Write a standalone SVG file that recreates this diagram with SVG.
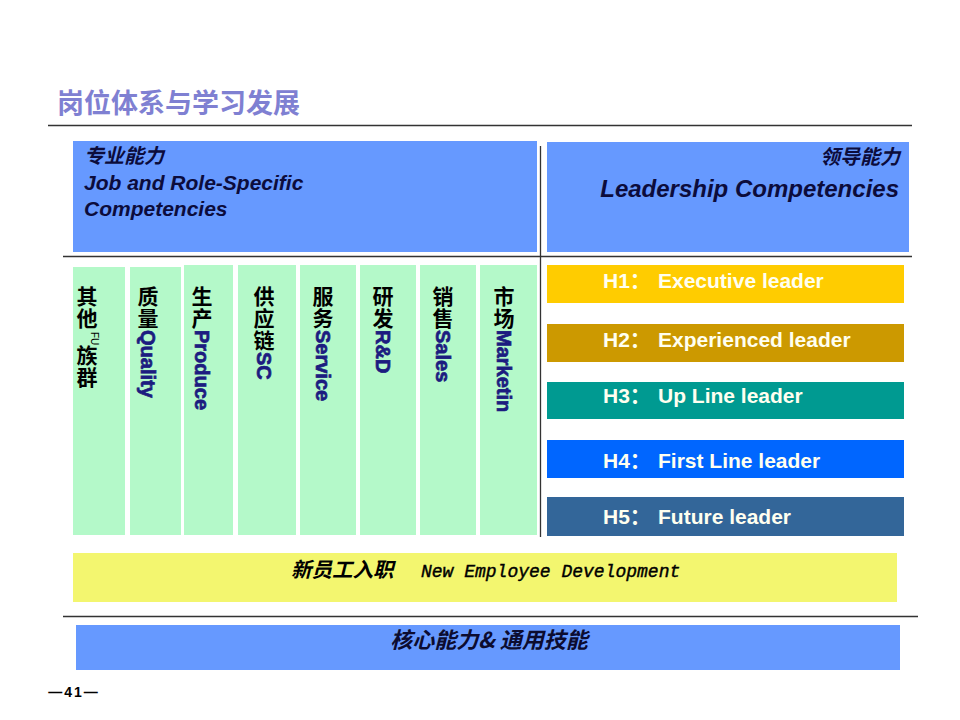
<svg xmlns="http://www.w3.org/2000/svg" width="960" height="720" viewBox="0 0 960 720">
<style>
.cjk{font-family:"Noto Sans CJK SC","Liberation Sans",sans-serif;font-weight:bold}
.v{writing-mode:vertical-rl;text-orientation:mixed;font-family:"Noto Sans CJK SC",sans-serif;font-weight:bold;font-size:21px;fill:#000}
.vc{letter-spacing:1px}
.en{font-family:"Liberation Sans","Noto Sans CJK SC",sans-serif;font-weight:bold;font-size:20px;fill:#1c1c80;stroke:#1c1c80;stroke-width:0.7;letter-spacing:0}
.col{fill:#b4f9c9}
.blue{fill:#6699ff}
.hbar{font-family:"Liberation Sans","Noto Sans CJK SC",sans-serif;font-weight:bold;font-size:21px;fill:#fffff0}
.hdr{font-family:"Liberation Sans","Noto Sans CJK SC",sans-serif;font-weight:bold;font-style:italic;fill:#0c0c3c}
.sep{stroke:#333;stroke-width:1.3;fill:none}
</style>
<rect width="960" height="720" fill="#fff"/>

<g id="title">
<text x="57" y="113" class="cjk" font-size="27" fill="#7f80d2">岗位体系与学习发展</text>
</g>

<g id="separators">
<line class="sep" x1="48" y1="125.5" x2="912" y2="125.5"/>
<line class="sep" x1="63" y1="256.5" x2="912" y2="256.5"/>
<line class="sep" x1="540.5" y1="146" x2="540.5" y2="537"/>
<line class="sep" x1="63" y1="616.5" x2="918" y2="616.5"/>
</g>

<g id="job-competencies">
<rect class="blue" x="73" y="141" width="464" height="111"/>
<text class="hdr" x="84" y="163" font-size="20">专业能力</text>
<text class="hdr" x="84" y="190" font-size="21">Job and Role-Specific</text>
<text class="hdr" x="84" y="216" font-size="21">Competencies</text>
</g>

<g id="leadership-competencies">
<rect class="blue" x="547" y="142" width="362" height="110"/>
<text class="hdr" x="900" y="164" font-size="20" text-anchor="end">领导能力</text>
<text class="hdr" x="899" y="197" font-size="24" text-anchor="end">Leadership Competencies</text>
</g>

<g id="col-other">
<rect class="col" x="73" y="267" width="52" height="268"/>
<text class="v" x="87" y="286"><tspan class="vc">其他</tspan></text>
<text transform="translate(91,332) rotate(90)" font-family="Liberation Sans,sans-serif" font-size="10" fill="#000">FU</text>
<text class="v" x="87" y="345"><tspan class="vc">族群</tspan></text>
</g>

<g id="col-quality">
<rect class="col" x="130" y="267" width="51" height="268"/>
<text class="v" x="148" y="286"><tspan class="vc">质量</tspan><tspan class="en">Quality</tspan></text>
</g>

<g id="col-produce">
<rect class="col" x="184" y="265" width="49" height="270"/>
<text class="v" x="202" y="286"><tspan class="vc">生产</tspan><tspan class="en">Produce</tspan></text>
</g>

<g id="col-sc">
<rect class="col" x="238" y="265" width="58" height="270"/>
<text class="v" x="264" y="286"><tspan class="vc">供应链</tspan><tspan class="en">SC</tspan></text>
</g>

<g id="col-service">
<rect class="col" x="300" y="265" width="56" height="270"/>
<text class="v" x="323" y="286"><tspan class="vc">服务</tspan><tspan class="en">Service</tspan></text>
</g>

<g id="col-rd">
<rect class="col" x="360" y="265" width="56" height="270"/>
<text class="v" x="383" y="286"><tspan class="vc">研发</tspan><tspan class="en">R&amp;D</tspan></text>
</g>

<g id="col-sales">
<rect class="col" x="420" y="265" width="56" height="270"/>
<text class="v" x="443" y="286"><tspan class="vc">销售</tspan><tspan class="en">Sales</tspan></text>
</g>

<g id="col-marketing">
<rect class="col" x="480" y="265" width="57" height="270"/>
<text class="v" x="504" y="286"><tspan class="vc">市场</tspan><tspan class="en">Marketin</tspan></text>
</g>

<g id="h1">
<rect x="547" y="265" width="357" height="38" fill="#ffcc00"/>
<text class="hbar" x="603" y="288">H1：<tspan x="658">Executive leader</tspan></text>
</g>
<g id="h2">
<rect x="547" y="324" width="357" height="38" fill="#cc9900"/>
<text class="hbar" x="603" y="347">H2：<tspan x="658">Experienced leader</tspan></text>
</g>
<g id="h3">
<rect x="547" y="382" width="357" height="37" fill="#009a91"/>
<text class="hbar" x="603" y="403">H3：<tspan x="658">Up Line leader</tspan></text>
</g>
<g id="h4">
<rect x="547" y="440" width="357" height="38" fill="#0066ff"/>
<text class="hbar" x="603" y="468">H4：<tspan x="658">First  Line leader</tspan></text>
</g>
<g id="h5">
<rect x="547" y="497" width="357" height="39" fill="#336699"/>
<text class="hbar" x="603" y="524">H5：<tspan x="658">Future  leader</tspan></text>
</g>

<g id="new-employee">
<rect x="73" y="553" width="824" height="49" fill="#f3f66f"/>
<text y="577" fill="#000"><tspan x="291" class="cjk" font-size="20.5" font-style="italic">新员工入职</tspan><tspan x="421" font-family="Liberation Mono,monospace" font-size="18" font-style="italic" stroke="#000" stroke-width="0.4">New Employee Development</tspan></text>
</g>

<g id="core-skills">
<rect class="blue" x="76" y="625" width="824" height="45"/>
<text x="489" y="648" class="cjk" font-size="22" font-style="italic" text-anchor="middle" fill="#0c0c30">核心能力&amp; 通用技能</text>
</g>

<g id="footer">
<text x="74" y="697" font-family="Liberation Sans,sans-serif" font-size="14" font-weight="bold" text-anchor="middle" letter-spacing="2" fill="#000">—41—</text>
</g>
</svg>
